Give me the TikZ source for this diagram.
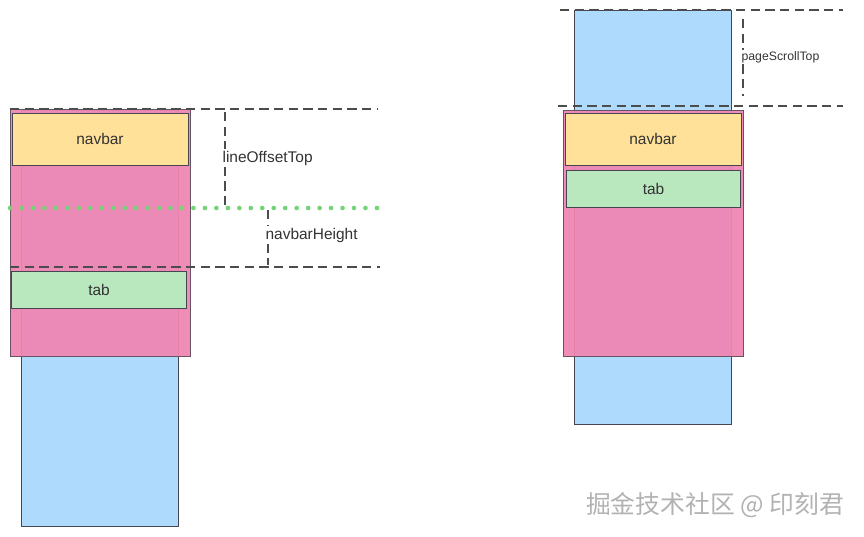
\documentclass[tikz,border=0pt]{standalone}
\usepackage{fontspec}
\setmainfont{Liberation Sans}
\newfontfamily\cjk{Noto Sans CJK SC}
\usepackage{tikz}
\usetikzlibrary{positioning}

\definecolor{pageblue}{RGB}{174,218,253}
\definecolor{screenpink}{RGB}{239,134,178}
\definecolor{navyellow}{RGB}{255,225,153}
\definecolor{tabgreen}{RGB}{185,232,190}
\definecolor{dotgreen}{RGB}{118,212,118}
\definecolor{edgegray}{RGB}{70,70,80}

\tikzstyle{pagebox} = [rectangle, inner sep=0pt, outer sep=0pt, minimum width=117.75pt, draw=edgegray, line width=0.6pt, fill=pageblue]
\tikzstyle{screenbox} = [rectangle, inner sep=0pt, outer sep=0pt, minimum width=135pt, draw=edgegray!80!screenpink, line width=0.6pt, fill=screenpink, fill opacity=0.94]
\tikzstyle{navbox} = [rectangle, inner sep=0pt, outer sep=0pt, minimum width=132pt, minimum height=39pt, draw=edgegray, line width=0.6pt, fill=navyellow, text=black!80, font=\fontsize{11.6}{14}\selectfont]
\tikzstyle{tabbox} = [rectangle, inner sep=0pt, outer sep=0pt, minimum width=131pt, minimum height=27.75pt, draw=edgegray, line width=0.6pt, fill=tabgreen, text=black!80, font=\fontsize{11.6}{14}\selectfont]
\tikzstyle{guide} = [black!70, line width=1.1pt, dash pattern=on 7pt off 4pt]
\tikzstyle{dotline} = [dotgreen, line width=3.5pt, line cap=round, dash pattern=on 0pt off 8.6pt]
\tikzstyle{dimlabel} = [inner sep=1pt, anchor=west, text=black!80]

\begin{document}
\begin{tikzpicture}[x=0.75pt, y=-0.75pt]
    \useasboundingbox (0,0) rectangle (864,536);

    % left: page without scrolling
    \node (pageA) [pagebox, minimum height=312pt] at (99.5,318) {};
    \node (screenA) [screenbox, minimum height=185.25pt] at (100,232.5) {};
    \node (navA) [navbox] at (100,139) {navbar};
    \node (tabA) [tabbox] at (99,289.5) {tab};

    \coordinate (topA) at (378,109);
    \coordinate (dotA) at (383,208);
    \coordinate (barA) at (380,267);
    \draw [guide] (screenA.north west) -- (topA);
    \draw [guide] (10,267) coordinate (barA0) -- (barA);
    \draw [dotline] (10,208) coordinate (dotA0) -- (dotA);

    \node (lot) [dimlabel, font=\fontsize{11.6}{14}\selectfont] at (221,158) {lineOffsetTop};
    \coordinate (lotT) at (225,112);
    \coordinate (lotB) at (225,207);
    \draw [guide] (lotT) -- (lotT |- lot.north);
    \draw [guide] (lotB |- lot.south) -- (lotB);

    \node (nbh) [dimlabel, font=\fontsize{11.6}{14}\selectfont] at (264,235) {navbarHeight};
    \coordinate (nbhT) at (268,210);
    \coordinate (nbhB) at (268,265);
    \draw [guide] (nbhT) -- (nbhT |- nbh.north);
    \draw [guide] (nbhB |- nbh.south) -- (nbhB);

    % right: page scrolled, tab sticks under navbar
    \node (pageB) [pagebox, minimum height=310.5pt] at (652.5,217) {};
    \node (screenB) [screenbox, minimum height=184.5pt] at (653,233) {};
    \node (navB) [navbox] at (653,139) {navbar};
    \node (tabB) [tabbox] at (653.5,188.5) {tab};

    \coordinate (topB0) at (560,10);
    \coordinate (topB) at (843,10);
    \coordinate (scrB0) at (558,106);
    \coordinate (scrB) at (843,106);
    \draw [guide] (topB0) -- (topB);
    \draw [guide] (scrB0) -- (scrB);

    \node (pst) [dimlabel, font=\fontsize{9.2}{11}\selectfont] at (740,57) {pageScrollTop};
    \coordinate (pstT) at (743,19);
    \coordinate (pstB) at (743,96);
    \draw [guide] (pstT) -- (pstT |- pst.north);
    \draw [guide] (pstB |- pst.south) -- (pstB);

    \node (mark) [text=black!30, font=\cjk\fontsize{18.6}{21}\selectfont] at (715,505) {掘金技术社区 @ 印刻君};

\end{tikzpicture}
\end{document}
